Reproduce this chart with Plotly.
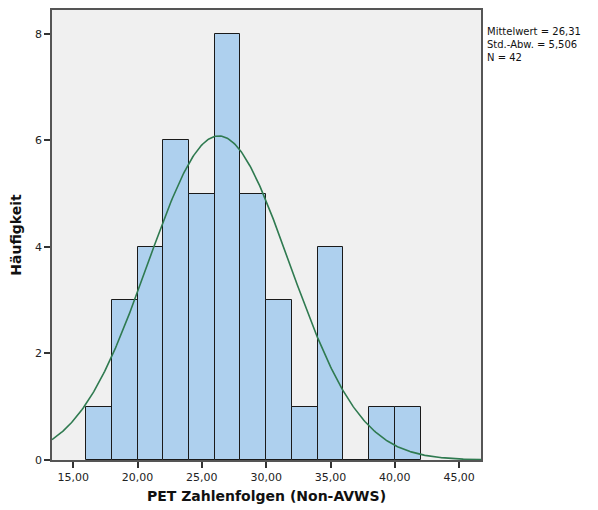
import numpy as np
import plotly.graph_objects as go

# Histogram of PET Zahlenfolgen scores (bin width 2)
bin_starts = [16, 18, 20, 22, 24, 26, 28, 30, 32, 34, 36, 38, 40]
counts = [1, 3, 4, 6, 5, 8, 5, 3, 1, 4, 0, 1, 1]
bin_width = 2

mean_val = 26.31
sd_val = 5.506
n_val = 42

x_tick_vals = [15, 20, 25, 30, 35, 40, 45]
x_tick_text = ["15,00", "20,00", "25,00", "30,00", "35,00", "40,00", "45,00"]
y_tick_vals = [0, 2, 4, 6, 8]

centers = [s + bin_width / 2 for s in bin_starts]

# Fitted normal curve scaled to counts
xs = np.linspace(13.35, 46.7, 400)
ys = n_val * bin_width / (sd_val * np.sqrt(2 * np.pi)) * np.exp(-0.5 * ((xs - mean_val) / sd_val) ** 2)

fig = go.Figure()
fig.add_trace(go.Bar(
    x=centers, y=counts, width=bin_width,
    marker=dict(color="#AED0EE", line=dict(color="#1a1a1a", width=1)),
    hoverinfo="skip",
))
fig.add_trace(go.Scatter(
    x=xs, y=ys, mode="lines",
    line=dict(color="#2F7A50", width=1.6),
    hoverinfo="skip",
))

axis_common = dict(
    showline=True, linecolor="#555555", linewidth=1.5, mirror=True,
    ticks="outside", ticklen=6, tickcolor="#333333", tickwidth=1.5,
    showgrid=False, zeroline=False,
    tickfont=dict(family="DejaVu Sans", size=11, color="#222222"),
)

fig.update_layout(
    width=598, height=510,
    margin=dict(l=52, r=117, t=8, b=50),
    plot_bgcolor="#F0F0F0", paper_bgcolor="white",
    showlegend=False, bargap=0,
    xaxis=dict(range=[13.35, 46.7], tickvals=x_tick_vals, ticktext=x_tick_text,
               title=dict(text="<b>PET Zahlenfolgen (Non-AVWS)</b>", standoff=8,
                          font=dict(family="DejaVu Sans", size=14, color="#111111")),
               **axis_common),
    yaxis=dict(range=[0, 8.45], tickvals=y_tick_vals,
               title=dict(text="<b>Häufigkeit</b>", standoff=10,
                          font=dict(family="DejaVu Sans", size=14, color="#111111")),
               **axis_common),
)

def de_num(v, digits):
    return f"{v:.{digits}f}".replace(".", ",")

fig.add_annotation(
    xref="paper", yref="paper", x=1.01, y=0.97, xanchor="left", yanchor="top",
    align="left", showarrow=False,
    text=f"Mittelwert = {de_num(mean_val, 2)}<br>"
         f"Std.-Abw. = {de_num(sd_val, 3)}<br>"
         f"N = {n_val}",
    font=dict(family="DejaVu Sans", size=10, color="#111111"),
)

fig.write_html("out.html")
